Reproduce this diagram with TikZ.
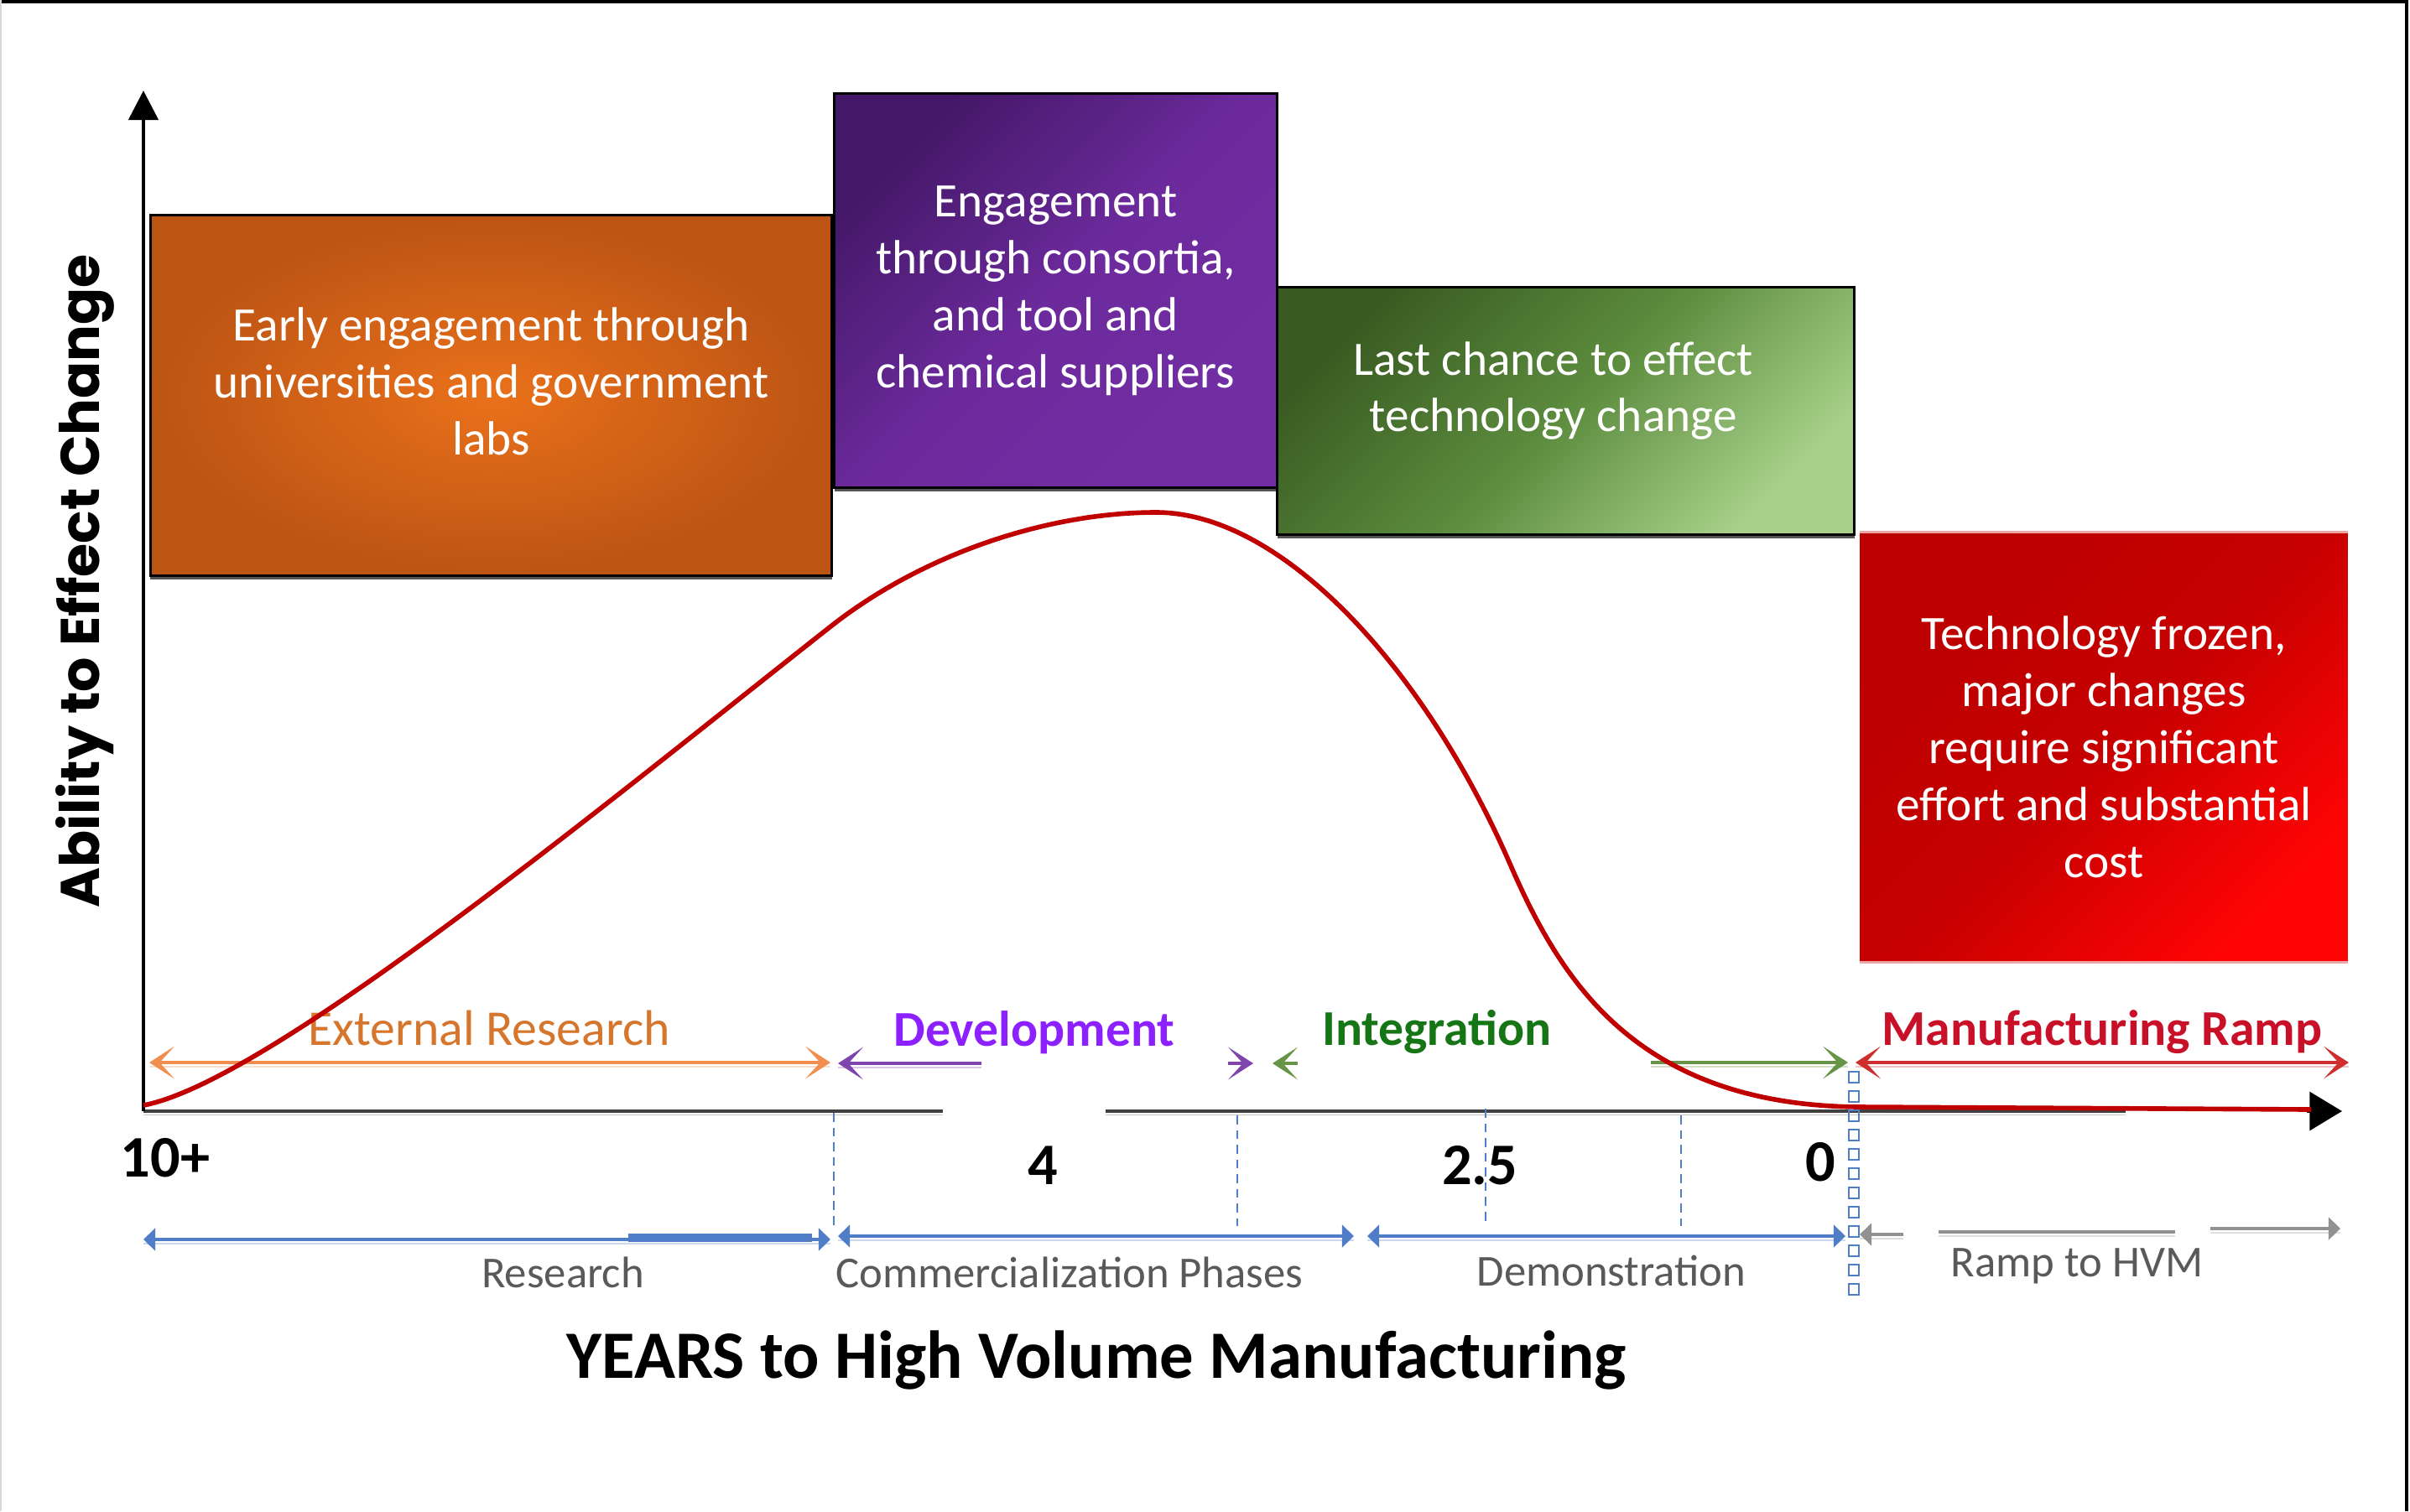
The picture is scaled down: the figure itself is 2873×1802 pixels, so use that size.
\documentclass[tikz,border=0pt]{standalone}
\usepackage{fontspec}
\setmainfont{Carlito}
\newfontfamily\gothic{Poppins}
\usetikzlibrary{arrows.meta,shadows}

\definecolor{axisgray}{RGB}{64,64,64}
\definecolor{axisshade}{RGB}{196,196,196}
\definecolor{boxshade}{RGB}{85,85,85}
\definecolor{curvered}{RGB}{192,0,0}
\definecolor{earlymid}{RGB}{234,113,26}
\definecolor{earlyedge}{RGB}{188,84,20}
\definecolor{purpleA}{RGB}{68,24,104}
\definecolor{purpleM}{RGB}{108,42,156}
\definecolor{purpleB}{RGB}{114,46,164}
\definecolor{greenA}{RGB}{58,92,34}
\definecolor{greenM}{RGB}{92,140,62}
\definecolor{greenB}{RGB}{168,208,138}
\definecolor{redA}{RGB}{188,0,0}
\definecolor{redM}{RGB}{198,0,0}
\definecolor{redB}{RGB}{255,4,4}
\definecolor{pinkedge}{RGB}{236,166,166}
\definecolor{extcol}{RGB}{240,142,78}
\definecolor{exttext}{RGB}{214,118,45}
\definecolor{devcol}{RGB}{128,68,175}
\definecolor{devtext}{RGB}{140,32,255}
\definecolor{intcol}{RGB}{104,148,72}
\definecolor{inttext}{RGB}{22,118,22}
\definecolor{mfgcol}{RGB}{206,46,46}
\definecolor{mfgtext}{RGB}{200,16,40}
\definecolor{phasecol}{RGB}{80,125,200}
\definecolor{rampcol}{RGB}{145,145,145}
\definecolor{phasetext}{RGB}{89,89,89}

\tikzset{
  chev/.tip={Stealth[length=8.5pt,width=11pt,inset=5pt]},
  pip/.tip={Triangle[length=4pt,width=7.5pt]}
}

\begin{document}
\begin{tikzpicture}[x=0.1mm, y=-0.1mm,
  boxtext/.style={align=center, text=white, font=\fontsize{16.3}{19.3}\selectfont},
  box/.style={rectangle, inner sep=0pt, boxtext},
  framedbox/.style={box, draw=black, line width=0.85pt,
    drop shadow={shadow xshift=0pt, shadow yshift=-1.4pt, fill=boxshade, opacity=1}},
  span/.style={draw=#1, line width=1.4pt,
    preaction={draw=#1!30, -, transform canvas={yshift=-1.4pt}}},
  phase/.style={span=#1, line width=1.3pt},
  axisline/.style={draw=axisgray, line width=1.1pt,
    preaction={draw=axisshade, -, transform canvas={yshift=-1.2pt}}},
  guide/.style={draw=phasecol, line width=0.5pt, dash pattern=on 3pt off 2pt},
  stage/.style={font=\bfseries\fontsize{17}{20}\selectfont},
  phasename/.style={text=phasetext, font=\fontsize{15}{18}\selectfont},
  years/.style={font=\bfseries\fontsize{20}{24}\selectfont}]

  \fill[white] (0,0) rectangle (2873,1802);
  \useasboundingbox (0,0) rectangle (2873,1802);
  \draw[line width=0.9pt] (0,2) -- (2869,2) -- (2869,1802);
  \draw[black!15, line width=0.6pt] (1,0) -- (1,1802);

  % the four stage boxes
  \node (early) [framedbox, anchor=north west, minimum width=81.2mm, minimum height=43mm,
    inner color=earlymid, outer color=earlyedge,
    label={[boxtext, yshift=4.8pt]center:Early engagement through\\universities and government\\labs}]
    at (178,255) {};
  \node (consortia) [framedbox, anchor=north west, minimum width=52.8mm, minimum height=47mm,
    top color=purpleA, bottom color=purpleB, middle color=purpleM, shading angle=45] at (993,110)
    {Engagement\\through consortia,\\and tool and\\chemical suppliers};
  \node (lastchance) [framedbox, anchor=north west, minimum width=68.8mm, minimum height=29.5mm,
    top color=greenA, bottom color=greenB, middle color=greenM, shading angle=45,
    label={[boxtext, xshift=-4.2pt, yshift=6.8pt]center:Last chance to effect\\technology change}]
    at (1521,341) {};
  \node (frozen) [box, anchor=north west, minimum width=58.1mm, minimum height=51.2mm,
    top color=redA, bottom color=redB, middle color=redM, shading angle=45] at (2217,634)
    {Technology frozen,\\major changes\\require significant\\effort and substantial\\cost};
  \draw[pinkedge, line width=0.85pt] (frozen.north west) -- (frozen.north east)
    (frozen.south west) -- (frozen.south east);

  % axes
  \coordinate (origin) at (171,1325);
  \coordinate (ytop) at (171,108);
  \coordinate (gapstart) at (1124,1325);
  \coordinate (gapend) at (1318,1325);
  \coordinate (xstop) at (2534,1325);
  \coordinate (xend) at (2792,1325);
  \draw[axisline] (origin) -- (gapstart);
  \draw[axisline] (gapend) -- (xstop);
  \draw[line width=1.1pt, -{Triangle[length=11pt,width=13pt]}] ([xshift=-12pt]xend) -- (xend);
  \draw[line width=1.3pt, -{Triangle[length=10pt,width=10pt]}] (origin) -- (ytop);

  \draw[guide] (994,1327) -- (994,1462)  (1475,1330) -- (1475,1462)
    (1771,1322) -- (1771,1462)  (2004,1330) -- (2004,1462);
  \foreach \y in {1278,1301,...,1550}
    \draw[phasecol, line width=0.8pt] (2204,\y) rectangle ++(12,13);

  % stage spans
  \coordinate (extL) at (178,1267);  \coordinate (extR) at (990,1267);
  \coordinate (devS) at (1170,1268); \coordinate (devE) at (999,1268);
  \coordinate (devT) at (1494,1268); \coordinate (intT) at (1517,1268);
  \coordinate (intS) at (1968,1267); \coordinate (intE) at (2203,1267);
  \coordinate (mfgL) at (2212,1267); \coordinate (mfgR) at (2800,1267);
  \draw[span=extcol, {chev}-{chev}] (extL) -- (extR);
  \draw[span=devcol, -{chev}] (devS) -- (devE);
  \draw[devcol, line width=1.4pt, -{chev}] ([xshift=-8.5pt]devT) -- (devT);
  \draw[intcol, line width=1.4pt, -{chev}] ([xshift=8.5pt]intT) -- (intT);
  \draw[span=intcol, -{chev}] (intS) -- (intE);
  \draw[span=mfgcol, {chev}-{chev}] (mfgL) -- (mfgR);

  \node (extlbl) [text=exttext, font=\fontsize{17}{20}\selectfont] at (583,1226) {External Research};
  \node (devlbl) [stage, text=devtext] at (1233,1231) {Development};
  \node (intlbl) [stage, text=inttext] at (1713,1231) {Integration};
  \node (mfglbl) [stage, text=mfgtext] at (2506,1231) {Manufacturing Ramp};

  % phase spans
  \coordinate (resL) at (171,1478);  \coordinate (resR) at (990,1478);
  \coordinate (comL) at (999,1474);  \coordinate (comR) at (1614,1474);
  \coordinate (demL) at (1630,1474); \coordinate (demR) at (2200,1474);
  \coordinate (hvmL) at (2217,1472); \coordinate (hvmR) at (2790,1465);
  \draw[phase=phasecol, {pip}-{pip}] (resL) -- (resR);
  \draw[phasecol, line width=2.6pt] (749,1476) -- (968,1476);
  \draw[phase=phasecol, {pip}-{pip}] (comL) -- (comR);
  \draw[phase=phasecol, {pip}-{pip}] (demL) -- (demR);
  \draw[phase=rampcol, {pip}-] (hvmL) -- (2269,1472);
  \draw[phase=rampcol] (2311,1469) -- (2593,1469);
  \draw[phase=rampcol, -{pip}] (2635,1465) -- (hvmR);

  \node (reslbl) [phasename] at (671,1517) {Research};
  \node (comlbl) [phasename] at (1275,1517) {Commercialization Phases};
  \node (demlbl) [phasename] at (1921,1515) {Demonstration};
  \node (hvmlbl) [phasename] at (2476,1510) {Ramp to HVM};

  \node (y10) [years] at (197,1381) {10+};
  \node (y4) [years] at (1243,1390) {4};
  \node (y25) [years] at (1764,1390) {2.5};
  \node (y0) [years] at (2170,1386) {0};

  \node (xlab) [font=\bfseries\fontsize{23}{28}\selectfont] at (1307,1622)
    {YEARS to High Volume Manufacturing};
  \node (ylab) [rotate=90, font=\gothic\bfseries\fontsize{18.5}{22}\selectfont] at (101,693)
    {Ability to Effect Change};

  % ability curve
  \draw[curvered, line width=1.6pt, line join=round]
    (171,1318) .. controls (320,1290) and (720,960) .. (989,748)
    .. controls (1100,660) and (1250,611) .. (1378,611)
    .. controls (1530,611) and (1700,800) .. (1800,1030)
    .. controls (1860,1168) and (1950,1318) .. (2217,1320) -- (2755,1323);
\end{tikzpicture}
\end{document}
